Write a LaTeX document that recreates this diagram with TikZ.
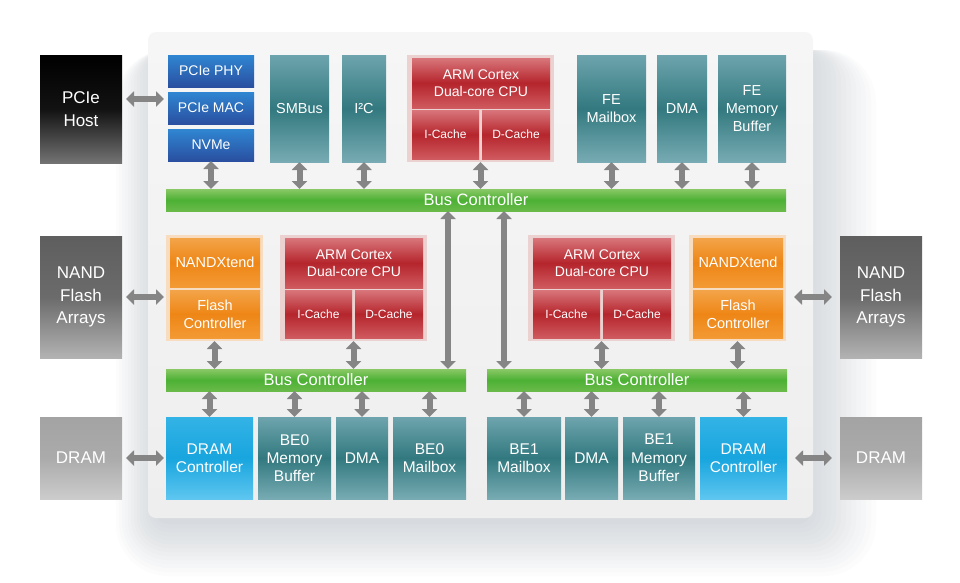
\documentclass[tikz,border=0pt]{standalone}
\usepackage{fontspec}
\setmainfont{Liberation Sans}
\usetikzlibrary{arrows.meta, positioning}

\definecolor{tealtop}{HTML}{6EA4AD}
\definecolor{tealmid}{HTML}{32797F}
\definecolor{tealbot}{HTML}{78ABB3}
\definecolor{bluetop}{HTML}{2F86D2}
\definecolor{bluebot}{HTML}{2A4FA0}
\definecolor{redtop}{HTML}{D8767B}
\definecolor{redmid}{HTML}{B5252C}
\definecolor{redbot}{HTML}{CF5A5F}
\definecolor{orangetop}{HTML}{F3A449}
\definecolor{orangemid}{HTML}{EE8616}
\definecolor{orangebot}{HTML}{F39A34}
\definecolor{greentop}{HTML}{8AC866}
\definecolor{greenmid}{HTML}{4CB134}
\definecolor{greenbot}{HTML}{6ABA4A}
\definecolor{cyantop}{HTML}{33B3E6}
\definecolor{cyanmid}{HTML}{18A5DE}
\definecolor{cyanbot}{HTML}{5EC6F0}
\definecolor{cpuback}{HTML}{EBD1CF}
\definecolor{nandback}{HTML}{F8DCC0}
\definecolor{arrowgray}{HTML}{858585}
\definecolor{paneltop}{HTML}{F6F6F6}
\definecolor{panelbot}{HTML}{EEEEEE}
\definecolor{shadowslate}{HTML}{34485A}

\begin{document}
\begin{tikzpicture}[x=1pt, y=-1pt,
    box/.style={anchor=north west, inner sep=0pt, outer sep=0pt, align=center, text=white, font=\fontsize{14.5}{17.7}\selectfont},
    boxsize/.style 2 args={minimum width=#1pt, minimum height=#2pt},
    outerfont/.style={font=\fontsize{17}{22.5}\selectfont},
    lowfont/.style={font=\fontsize{15.5}{18.3}\selectfont},
    hostbox/.style={box, outerfont, top color=black, bottom color=black!55, middle color=black!93},
    flashbox/.style={box, outerfont, top color=black!63, bottom color=black!30, middle color=black!58},
    drambox/.style={box, outerfont, top color=black!36, bottom color=black!20, middle color=black!33},
    bluebox/.style={box, font=\fontsize{14}{17}\selectfont, top color=bluetop, bottom color=bluebot},
    tealbox/.style={box, top color=tealtop, bottom color=tealbot, middle color=tealmid},
    redbox/.style={box, font=\fontsize{14}{17.3}\selectfont, top color=redtop, bottom color=redbot, middle color=redmid},
    cachebox/.style={redbox, font=\fontsize{12}{14}\selectfont},
    orangebox/.style={box, font=\fontsize{14.5}{18}\selectfont, top color=orangetop, bottom color=orangebot, middle color=orangemid},
    cyanbox/.style={box, lowfont, top color=cyantop, bottom color=cyanbot, middle color=cyanmid},
    busbox/.style={box, font=\fontsize{16.5}{18}\selectfont, top color=greentop, bottom color=greenbot, middle color=greenmid},
    cpuframe/.style={box, fill=cpuback},
    nandframe/.style={box, fill=nandback},
    arrow/.style={{Triangle[width=15pt,length=8pt]}-{Triangle[width=15pt,length=8pt]}, line width=6pt, draw=arrowgray}
  ]
    \useasboundingbox (0,0) rectangle (960,582);

    \foreach \i in {1,...,14}
      \fill[shadowslate, opacity=.016, rounded corners=10pt+3pt*\i] (158-3*\i,50) rectangle (806+5*\i,520+4*\i);
    \shade[top color=paneltop, bottom color=panelbot, rounded corners=8pt] (148,32) rectangle (813,518);

    \node[hostbox, boxsize={82}{108}] (host) at (40,55) {PCIe\\Host};
    \node[flashbox, boxsize={82}{122}] (flashl) at (40,236) {NAND\\Flash\\Arrays};
    \node[drambox, boxsize={82}{82}] (draml) at (40,417) {DRAM};
    \node[flashbox, boxsize={82}{122}] (flashr) at (840,236) {NAND\\Flash\\Arrays};
    \node[drambox, boxsize={82}{82}] (dramr) at (840,417) {DRAM};

    \node[bluebox, boxsize={86}{32}] (phy) at (168,55) {PCIe PHY};
    \node[bluebox, boxsize={86}{32}, below=5pt of phy] (mac) {PCIe MAC};
    \node[bluebox, boxsize={86}{32}, below=5pt of mac] (nvme) {NVMe};
    \node[tealbox, boxsize={59}{107}] (smbus) at (270,55) {SMBus};
    \node[tealbox, boxsize={44}{107}, right=13pt of smbus] (itwoc) {I²C};
    \node[cpuframe, boxsize={147}{107}, right=21pt of itwoc] (cpu) {};
    \node[redbox, boxsize={138}{50}] (arm) at ([shift={(5,3)}]cpu.north west) {ARM Cortex\\Dual-core CPU};
    \node[cachebox, boxsize={67}{49}] (icache) at ([shift={(5,55)}]cpu.north west) {I-Cache};
    \node[cachebox, boxsize={68}{49}, right=3pt of icache] (dcache) {D-Cache};
    \node[tealbox, boxsize={69}{107}] (femail) at (577,55) {FE\\Mailbox};
    \node[tealbox, boxsize={50}{107}, right=11pt of femail] (fedma) {DMA};
    \node[tealbox, boxsize={68}{107}, right=11pt of fedma] (febuf) {FE\\Memory\\Buffer};

    \node[busbox, boxsize={620}{22}] (bus) at (166,189) {Bus Controller};
    \node[busbox, boxsize={300}{22}] (busl) at (166,369) {Bus Controller};
    \node[busbox, boxsize={300}{22}] (busr) at (487,369) {Bus Controller};

    \node[nandframe, boxsize={97}{106}] (nandl) at (166,235) {};
    \node[orangebox, boxsize={90}{49}] (xtendl) at ([shift={(4,3)}]nandl.north west) {NANDXtend};
    \node[orangebox, boxsize={90}{48}, below=3pt of xtendl] (fctrll) {Flash\\Controller};
    \node[cpuframe, boxsize={147}{106}, right=17pt of nandl] (cpul) {};
    \node[redbox, boxsize={138}{50}] (arml) at ([shift={(5,3)}]cpul.north west) {ARM Cortex\\Dual-core CPU};
    \node[cachebox, boxsize={67}{48}] (icachel) at ([shift={(5,55)}]cpul.north west) {I-Cache};
    \node[cachebox, boxsize={68}{48}, right=3pt of icachel] (dcachel) {D-Cache};

    \node[cpuframe, boxsize={147}{106}] (cpur) at (528,235) {};
    \node[redbox, boxsize={138}{50}] (armr) at ([shift={(5,3)}]cpur.north west) {ARM Cortex\\Dual-core CPU};
    \node[cachebox, boxsize={67}{48}] (icacher) at ([shift={(5,55)}]cpur.north west) {I-Cache};
    \node[cachebox, boxsize={68}{48}, right=3pt of icacher] (dcacher) {D-Cache};
    \node[nandframe, boxsize={97}{106}, right=14pt of cpur] (nandr) {};
    \node[orangebox, boxsize={90}{49}] (xtendr) at ([shift={(4,3)}]nandr.north west) {NANDXtend};
    \node[orangebox, boxsize={90}{48}, below=3pt of xtendr] (fctrlr) {Flash\\Controller};

    \node[cyanbox, boxsize={87}{82}] (dctrll) at (166,417) {DRAM\\Controller};
    \node[tealbox, lowfont, boxsize={73}{82}, right=5pt of dctrll] (be0buf) {BE0\\Memory\\Buffer};
    \node[tealbox, lowfont, boxsize={52}{82}, right=5pt of be0buf] (be0dma) {DMA};
    \node[tealbox, lowfont, boxsize={73}{82}, right=5pt of be0dma] (be0mail) {BE0\\Mailbox};
    \node[tealbox, lowfont, boxsize={74}{82}] (be1mail) at (487,417) {BE1\\Mailbox};
    \node[tealbox, lowfont, boxsize={53}{82}, right=4pt of be1mail] (be1dma) {DMA};
    \node[tealbox, lowfont, boxsize={72}{82}, right=5pt of be1dma] (be1buf) {BE1\\Memory\\Buffer};
    \node[cyanbox, boxsize={87}{82}, right=5pt of be1buf] (dctrlr) {DRAM\\Controller};

    \coordinate (hostport) at ([yshift=10pt]host.east);
    \draw[arrow, shorten <=4pt, shorten >=4pt] (hostport) -- (hostport -| mac.west);
    \draw[arrow, shorten <=4pt, shorten >=2pt] (flashl) -- (flashl -| nandl.west);
    \draw[arrow, shorten <=4pt, shorten >=2pt] (draml) -- (draml -| dctrll.west);
    \draw[arrow, shorten <=8pt, shorten >=8pt] (flashr) -- (flashr -| nandr.east);
    \draw[arrow, shorten <=8pt, shorten >=8pt] (dramr) -- (dramr -| dctrlr.east);

    \draw[arrow] (nvme) -- (nvme |- bus.north);
    \draw[arrow] (smbus) -- (smbus |- bus.north);
    \draw[arrow] (itwoc) -- (itwoc |- bus.north);
    \draw[arrow] (cpu) -- (cpu |- bus.north);
    \draw[arrow] (femail) -- (femail |- bus.north);
    \draw[arrow] (fedma) -- (fedma |- bus.north);
    \draw[arrow] (febuf) -- (febuf |- bus.north);

    \coordinate (linkl) at ([xshift=-18pt]busl.north east);
    \coordinate (linkr) at ([xshift=17pt]busr.north west);
    \draw[arrow] (linkl) -- (linkl |- bus.south);
    \draw[arrow] (linkr) -- (linkr |- bus.south);

    \draw[arrow] (nandl) -- (nandl |- busl.north);
    \draw[arrow] (cpul) -- (cpul |- busl.north);
    \draw[arrow] (cpur) -- (cpur |- busr.north);
    \draw[arrow] (nandr) -- (nandr |- busr.north);

    \draw[arrow] (dctrll) -- (dctrll |- busl.south);
    \draw[arrow] (be0buf) -- (be0buf |- busl.south);
    \draw[arrow] (be0dma) -- (be0dma |- busl.south);
    \draw[arrow] (be0mail) -- (be0mail |- busl.south);
    \draw[arrow] (be1mail) -- (be1mail |- busr.south);
    \draw[arrow] (be1dma) -- (be1dma |- busr.south);
    \draw[arrow] (be1buf) -- (be1buf |- busr.south);
    \draw[arrow] (dctrlr) -- (dctrlr |- busr.south);
  \end{tikzpicture}
\end{document}
